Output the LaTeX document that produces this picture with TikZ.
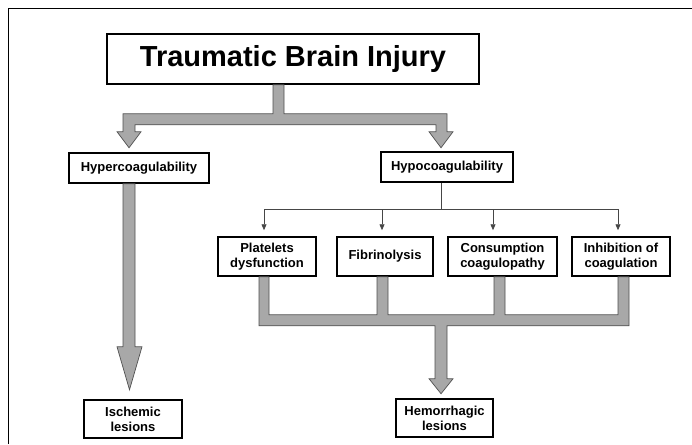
\documentclass[tikz,border=0pt]{standalone}
\usepackage{fontspec}
\setmainfont{Liberation Sans}
\usepackage{tikz}
\usetikzlibrary{arrows.meta,calc}
\definecolor{blokfill}{RGB}{168,168,168}
\definecolor{blokdraw}{RGB}{80,80,80}
\definecolor{pilcol}{RGB}{70,70,70}
\tikzset{
	>={Triangle[length=6pt,width=5pt]},
	titel/.style={
		rectangle,
		draw=black, line width=1.5pt,
		fill=white,
		minimum width=372pt,
		minimum height=50pt,
		inner sep=0pt,
		font=\fontsize{29}{32}\selectfont\bfseries},
	boks/.style={
		rectangle,
		draw=black, line width=1.5pt,
		fill=white,
		minimum height=30pt,
		inner sep=0pt,
		align=center,
		font=\fontsize{13}{15}\selectfont\bfseries},
	pil/.style={
		->,
		draw=pilcol,
		line width=0.8pt,
		shorten >=6pt},
	linje/.style={
		draw=pilcol,
		line width=0.8pt},
	blok/.style={
		fill=blokfill,
		draw=blokdraw,
		line width=0.7pt,
		line join=miter},
	ramme/.style={
		draw=black,
		line width=1.2pt}
}

\begin{document}
\begin{tikzpicture}[x=1pt,y=1pt,yscale=-1,xscale=1]
\useasboundingbox (0,0) rectangle (692,444);
% Frame
\draw[ramme] (8.5,444) -- (8.5,8.5) -- (692,8.5);

% Text Node
\node[titel] (tbi) at (293,59) {Traumatic Brain Injury};
% Text Node
\node[boks, minimum width=140pt] (hyper) at (139,168) {Hypercoagulability};
% Text Node
\node[boks, minimum width=132pt] (hypo) at (447,167) {Hypocoagulability};
% Text Node
\node[boks, minimum width=98pt, minimum height=39pt] (plat) at (267,256.5) {Platelets\\dysfunction};
% Text Node
\node[boks, minimum width=96pt, minimum height=39pt] (fib) at (385,256.5) {Fibrinolysis};
% Text Node
\node[boks, minimum width=109pt, minimum height=39pt] (cons) at (502.5,256.5) {Consumption\\coagulopathy};
% Text Node
\node[boks, minimum width=98pt, minimum height=39pt] (inh) at (621,256.5) {Inhibition of\\coagulation};
% Text Node
\node[boks, minimum width=98pt, minimum height=38pt] (isch) at (133,419) {Ischemic\\lesions};
% Text Node
\node[boks, minimum width=97pt, minimum height=38pt] (hem) at (444.5,418) {Hemorrhagic\\lesions};

% Gray arrows
\draw[blok] ([xshift=-20]tbi.south) -- ++(11,0) -- ++(0,29) -- ++(163,0) -- ++(0,18) -- ++(6,0) -- ++(-12,16) -- ++(-12,-16) -- ++(7,0) -- ++(0,-7) -- ++(-301,0) -- ++(0,7) -- ++(6,0) -- ++(-12,16) -- ++(-12,-16) -- ++(6,0) -- ++(0,-18) -- ++(150,0) -- cycle;
\draw[blok] ([xshift=-16]hyper.south) -- ++(12,0) -- ++(0,163) -- ++(7,0) -- ++(-12.5,43) -- ++(-12.5,-43) -- ++(6,0) -- cycle;
\draw[blok] ([xshift=-8]plat.south) -- ++(10,0) -- ++(0,38) -- ++(108,0) -- ++(0,-38) -- ++(11,0) -- ++(0,38) -- ++(106,0) -- ++(0,-38) -- ++(11,0) -- ++(0,38) -- ++(113,0) -- ++(0,-38) -- ++(11,0) -- ++(0,49) -- ++(-182,0) -- ++(0,53) -- ++(6,0) -- ++(-12,15) -- ++(-12,-15) -- ++(6,0) -- ++(0,-53) -- ++(-176,0) -- cycle;

% Thin arrows
\coordinate (bus) at (441,209);
\draw[linje] ([xshift=-6]hypo.south) -- (bus);
\draw[pil] (bus) -| ([xshift=-3]plat.north);
\draw[pil] (bus) -| ([xshift=-3]fib.north);
\draw[pil] (bus) -| ([xshift=-9.5]cons.north);
\draw[pil] (bus) -| ([xshift=-3]inh.north);
\end{tikzpicture}
\end{document}
